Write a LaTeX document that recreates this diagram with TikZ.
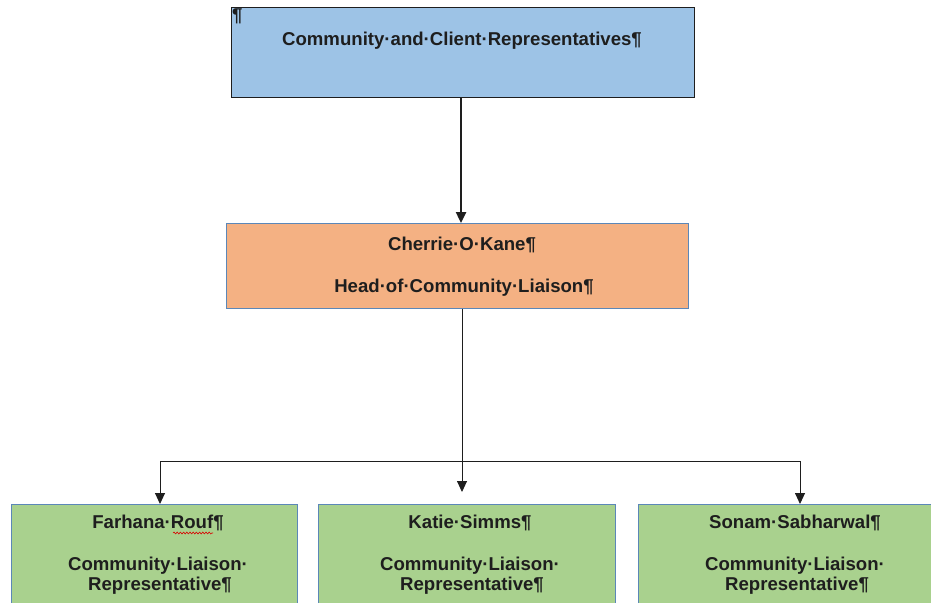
\documentclass[tikz,border=0pt]{standalone}
\usepackage{fontspec}
\setmainfont{Liberation Sans}
\usetikzlibrary{arrows.meta,decorations.pathmorphing}

\definecolor{topblue}{HTML}{9DC3E6}
\definecolor{headorange}{HTML}{F4B183}
\definecolor{repgreen}{HTML}{A9D18E}
\definecolor{edgeblue}{HTML}{5B87B8}
\definecolor{inkgray}{HTML}{1E1E1E}

\begin{document}
\begin{tikzpicture}[
		x=1pt,y=-1pt,
		box/.style={inner sep=0pt,anchor=north west},
		topbox/.style={box,draw=inkgray,line width=1.2pt,fill=topblue},
		headbox/.style={box,draw=edgeblue,line width=0.9pt,fill=headorange},
		repbox/.style={box,draw=edgeblue,line width=0.9pt,fill=repgreen,minimum height=110pt},
		lab/.style={font=\bfseries\fontsize{18.6}{22}\selectfont,text=inkgray,inner sep=0pt,anchor=base},
		bigarrow/.style={-{Triangle[length=11pt,width=10pt]},line width=2.4pt,inkgray},
		link/.style={-{Triangle[length=11pt,width=10pt]},line width=0.9pt,inkgray},
		joint/.style={line width=0.9pt,inkgray}
		]
		\clip (0,0) rectangle (931,602);
		% ===== Community and client representatives =====
		\node[topbox,minimum width=463pt,minimum height=90pt] (ccr) at (231,7) {};
		\node[lab,anchor=north west] (ccrmark) at (232,9) {¶};
		\node[lab] (ccrtxt) at (462,46) {Community·and·Client·Representatives¶};
		% ===== Head of community liaison =====
		\node[headbox,minimum width=462pt,minimum height=85pt] (chl) at (226,223) {};
		\node[lab] (chlname) at (462,250) {Cherrie·O·Kane¶};
		\node[lab] (chlrole) at (464,292) {Head·of·Community·Liaison¶};
		% ===== Community liaison representatives =====
		\foreach \nm/\x/\w/\cx/\who in {farhana/11/286/158/Farhana·Rouf¶,
			katie/318/297/470/Katie·Simms¶,
			sonam/638/310/795/Sonam·Sabharwal¶}{
			\node[repbox,minimum width=\w pt] (\nm) at (\x,504) {};
			\node[lab] (\nm name) at (\cx,528) {\who};
			\node[lab] (\nm role) at (\cx,570) {Community·Liaison·};
			\node[lab] (\nm rep) at (\cx+2,590) {Representative¶};
		}
		% spelling mark under Rouf
		\draw[red!85!black,line width=0.6pt,decorate,
		decoration={snake,amplitude=0.9pt,segment length=3.2pt}]
		(173,533) -- (213,533);
		% ===== Connectors =====
		\coordinate (split) at (462,461);
		\coordinate (lsplit) at (160,461);
		\coordinate (rsplit) at (800,461);
		\draw[bigarrow] (ccr.south -| 461,0) -- (chl.north -| 461,0);
		\draw[link,shorten >=12pt] (chl.south -| split) -- (katie.north -| split);
		\draw[joint] (lsplit) -- (rsplit);
		\draw[link] (lsplit) -- (farhana.north -| lsplit);
		\draw[link] (rsplit) -- (sonam.north -| rsplit);
	\end{tikzpicture}
\end{document}
